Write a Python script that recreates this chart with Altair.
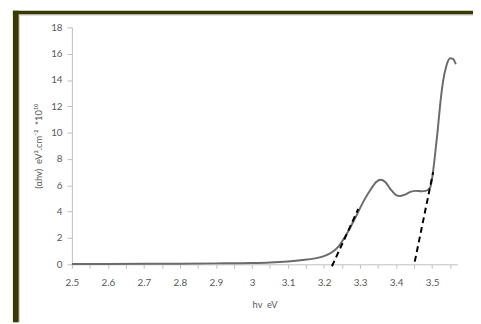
import altair as alt
import pandas as pd

# Measured curve (hv in eV, (αhv)^2 in units of 1e10 eV^2 cm^-2)
hv = [2.50, 2.60, 2.70, 2.80, 2.90, 3.00, 3.05, 3.10, 3.14, 3.175, 3.20, 3.22,
      3.24, 3.265, 3.29, 3.31, 3.33, 3.345, 3.357, 3.37, 3.385, 3.40, 3.41,
      3.425, 3.44, 3.455, 3.47, 3.485, 3.495, 3.50, 3.507, 3.515, 3.522, 3.53,
      3.54, 3.55, 3.558, 3.566]
ahv2 = [0.02, 0.03, 0.04, 0.05, 0.07, 0.10, 0.14, 0.22, 0.32, 0.45, 0.62, 0.88,
        1.35, 2.4, 3.7, 4.8, 5.7, 6.25, 6.42, 6.25, 5.7, 5.25, 5.18,
        5.3, 5.5, 5.58, 5.55, 5.6, 5.85, 6.5, 8.0, 10.0, 12.0, 13.8,
        15.1, 15.65, 15.6, 15.2]

# Tangent (extrapolation) lines
fit1_x = [3.222, 3.295]
fit1_y = [-0.15, 4.2]
fit2_x = [3.452, 3.503]
fit2_y = [0.2, 7.0]

x_ticks = [round(2.5 + 0.05 * i, 2) for i in range(22)]
y_ticks = [0, 2, 4, 6, 8, 10, 12, 14, 16, 18]

curve = pd.DataFrame({"hv": hv, "v": ahv2})
fits = pd.DataFrame({
    "hv": fit1_x + fit2_x,
    "v": fit1_y + fit2_y,
    "g": ["a", "a", "b", "b"],
})

FONT = "Lato"
GRAY = "#595959"
AX = "#bfbfbf"
NB = "\u00a0"

xscale = alt.Scale(domain=[2.5, 3.57], nice=False, zero=False)
yscale = alt.Scale(domain=[0, 18], nice=False)

xaxis = alt.Axis(
    title=f"hv{NB}{NB}eV", values=x_ticks, grid=False, labelOverlap=False,
    labelExpr="round(datum.value*100) % 10 == 0 ? format(datum.value, '~g') : ''",
    tickSize=4, labelPadding=10, titlePadding=12, labelFlush=False,
)
yaxis = alt.Axis(
    title=f"(αhv){NB}{NB}eV².cm⁻²{NB}{NB}*10¹⁰", values=y_ticks, grid=False,
    labelOverlap=False, tickSize=5, labelPadding=5, titlePadding=7,
)

line = alt.Chart(curve).mark_line(
    color="#6b6b6b", strokeWidth=2, interpolate="monotone"
).encode(
    x=alt.X("hv:Q", scale=xscale, axis=xaxis),
    y=alt.Y("v:Q", scale=yscale, axis=yaxis),
)

dash = alt.Chart(fits).mark_line(
    color="black", strokeWidth=2, strokeDash=[6, 4]
).encode(
    x=alt.X("hv:Q", scale=xscale, axis=xaxis),
    y=alt.Y("v:Q", scale=yscale, axis=yaxis),
    detail="g:N",
)

one = pd.DataFrame({"k": [0]})
frame_top = alt.Chart(one).mark_rect(color="#383800").encode(
    x=alt.value(-60), x2=alt.value(410), y=alt.value(-17), y2=alt.value(-13)
)
frame_left = alt.Chart(one).mark_rect(color="#383800").encode(
    x=alt.value(-60), x2=alt.value(-54), y=alt.value(-17), y2=alt.value(300)
)
bevel_top = alt.Chart(one).mark_rect(color="#c8c8c8").encode(
    x=alt.value(-54), x2=alt.value(410), y=alt.value(-13), y2=alt.value(-12)
)
bevel_left = alt.Chart(one).mark_rect(color="#c8c8c8").encode(
    x=alt.value(-54), x2=alt.value(-53), y=alt.value(-13), y2=alt.value(300)
)

chart = alt.layer(frame_top, frame_left, bevel_top, bevel_left, line, dash).properties(
    width=392, height=241,
    autosize=alt.AutoSizeParams(type="none"),
    padding={"left": 65, "top": 17, "right": 16, "bottom": 58},
    background="white",
).configure_view(stroke=None).configure_axis(
    labelOverlap=False, tickColor=AX, domainColor=AX,
    labelColor=GRAY, titleColor=GRAY, labelFont=FONT, titleFont=FONT,
    labelFontSize=10, titleFontSize=9.5, titleFontWeight="normal",
)

chart.save("out.html", embed_options={"renderer": "svg", "actions": False})
